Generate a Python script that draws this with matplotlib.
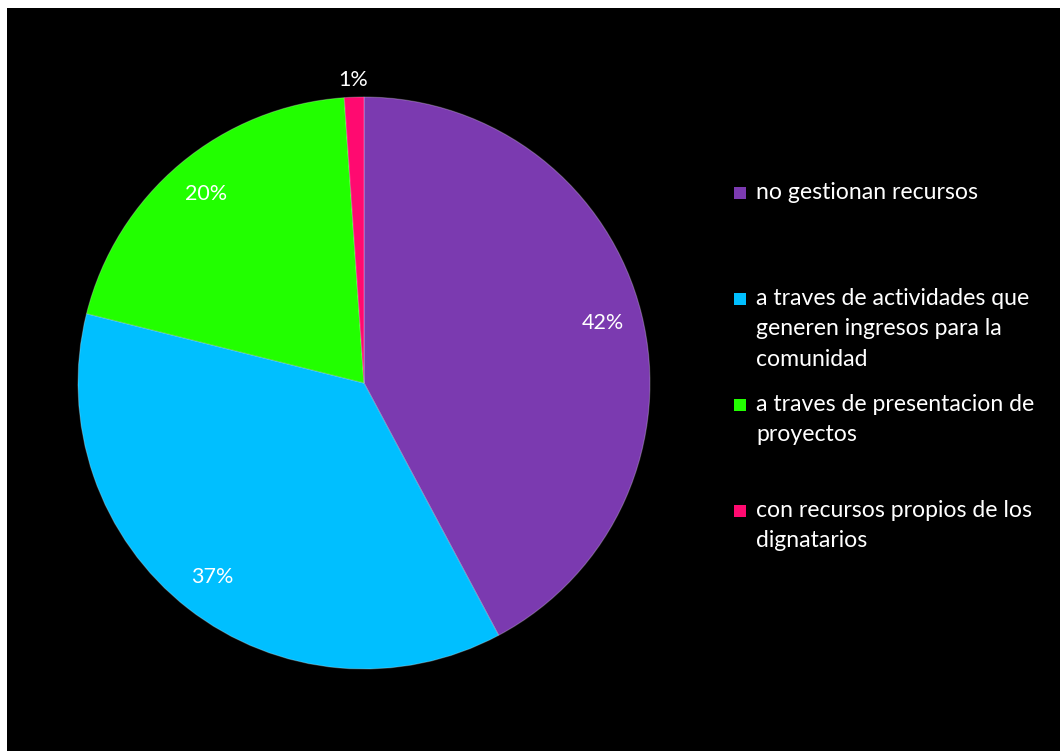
import numpy as np
import matplotlib.pyplot as plt
from matplotlib.patches import Rectangle

# share of each way the communities get resources (%)
labels = ["no gestionan recursos",
          "a traves de actividades que\ngeneren ingresos para la\ncomunidad",
          "a traves de presentacion de\nproyectos",
          "con recursos propios de los\ndignatarios"]
values = [42.2, 36.7, 20.0, 1.1]
colors = ["#7b3ab0", "#00bfff", "#22ff00", "#ff0a70"]

plt.rcParams['font.family'] = ['Lato', 'DejaVu Sans']

W, H = 1060, 751
fig = plt.figure(figsize=(W / 100, H / 100), dpi=100, facecolor="white")
# black panel, white strip on top and left
fig.patches.append(Rectangle((7 / W, 0), 1 - 7 / W, 1 - 8 / H, transform=fig.transFigure,
                             facecolor="black", edgecolor="none", zorder=-10))

cx, cy, R = 364, 383, 286
ax = fig.add_axes([(cx - R) / W, (H - cy - R) / H, 2 * R / W, 2 * R / H])
wedges, _ = ax.pie(values, colors=colors, startangle=90, counterclock=False, radius=1,
                   wedgeprops=dict(edgecolor=(1, 1, 1, 0.25), linewidth=0.8))
ax.set_xlim(-1, 1)
ax.set_ylim(-1, 1)
ax.set_aspect("equal")
ax.axis("off")

for w, v in zip(wedges, values):
    mid = np.deg2rad((w.theta1 + w.theta2) / 2)
    r = 0.86 if v > 5 else 1.06
    ax.text(r * np.cos(mid), r * np.sin(mid), "%.0f%%" % v, color="white",
            fontsize=15.5, ha="center", va="center", clip_on=False)

# legend
y0, step = 193, 106
for i, (lab, c) in enumerate(zip(labels, colors)):
    y = y0 + i * step
    fig.patches.append(Rectangle((734 / W, 1 - (y + 6) / H), 12 / W, 12 / H,
                                 transform=fig.transFigure, facecolor=c,
                                 edgecolor="none", zorder=2))
    fig.text(756 / W, 1 - (y - 11) / H, lab, color="white", fontsize=16.6,
             ha="left", va="top", linespacing=1.55)

fig.savefig("out.png", dpi=100, facecolor="white")
